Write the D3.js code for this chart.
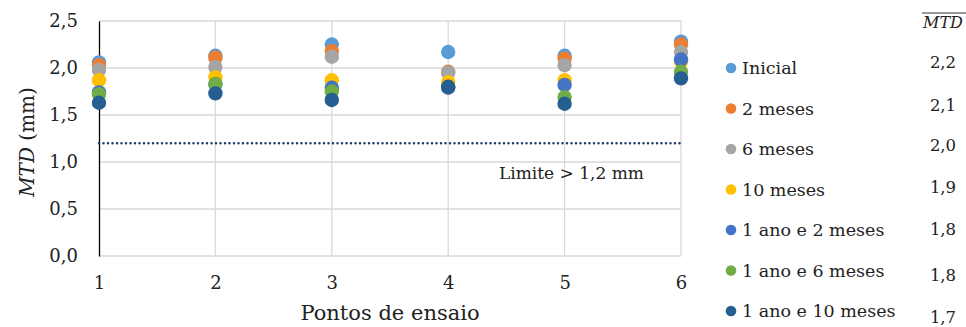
<!DOCTYPE html>
<html>
<head>
<meta charset="utf-8">
<script src="https://cdn.jsdelivr.net/npm/d3@7"></script>
<style>
  html, body { margin: 0; padding: 0; background: #fff; }
  svg { display: block; }
  svg text { font-family: "DejaVu Serif", serif; fill: #222; }
</style>
</head>
<body>
<svg id="chart" width="966" height="327"></svg>
<script>
// Test points along the road section
const points = [1, 2, 3, 4, 5, 6];

// Survey campaigns (legend order)
const seriesNames = ["Inicial", "2 meses", "6 meses", "10 meses", "1 ano e 2 meses", "1 ano e 6 meses", "1 ano e 10 meses"];
const seriesColors = ["#5B9BD5", "#ED7D31", "#A5A5A5", "#FFC000", "#4472C4", "#70AD47", "#255E91"];

// MTD (mm) measured at each test point, one array per campaign
const mtdInicial = [2.06, 2.13, 2.25, 2.17, 2.13, 2.28];
const mtd2m      = [2.03, 2.11, 2.18, 1.96, 2.10, 2.25];
const mtd6m      = [1.98, 2.01, 2.12, 1.95, 2.03, 2.17];
const mtd10m     = [1.87, 1.90, 1.87, 1.85, 1.87, 2.07];
const mtd1a2m    = [1.74, 1.83, 1.79, 1.79, 1.82, 2.09];
const mtd1a6m    = [1.72, 1.83, 1.75, 1.80, 1.69, 1.96];
const mtd1a10m   = [1.63, 1.73, 1.66, 1.80, 1.62, 1.89];
const seriesValues = [mtdInicial, mtd2m, mtd6m, mtd10m, mtd1a2m, mtd1a6m, mtd1a10m];

// Axis ticks and limit
const yTicks = [0, 0.5, 1.0, 1.5, 2.0, 2.5];
const limitValue = 1.2;
const limitLabel = "Limite > 1,2 mm";

const svg = d3.select("#chart");
const plot = { left: 99, right: 681, top: 21, bottom: 256 };

const x = d3.scaleLinear().domain([1, 6]).range([plot.left, plot.right]);
const y = d3.scaleLinear().domain([0, 2.5]).range([plot.bottom, plot.top]);
const fmt = v => d3.format(".1f")(v).replace(".", ",");

// Horizontal gridlines
svg.append("g").selectAll("line").data(yTicks).join("line")
  .attr("x1", plot.left).attr("x2", plot.right)
  .attr("y1", d => y(d)).attr("y2", d => y(d))
  .attr("stroke", "#D9D9D9").attr("stroke-width", 1.3);

// Vertical gridlines
svg.append("g").selectAll("line").data(points.slice(1)).join("line")
  .attr("x1", d => x(d)).attr("x2", d => x(d))
  .attr("y1", plot.top).attr("y2", plot.bottom)
  .attr("stroke", "#D9D9D9").attr("stroke-width", 1.3);

// Y axis
const yAxis = svg.append("g")
  .attr("transform", `translate(${plot.left},0)`)
  .call(d3.axisLeft(y).tickValues(yTicks).tickFormat(fmt).tickSize(0).tickPadding(21));
yAxis.attr("font-family", null);
yAxis.select(".domain").attr("stroke", "#000").attr("stroke-width", 1.3);
yAxis.selectAll("text").attr("font-size", 18).attr("fill", "#222");

// X axis
const xAxis = svg.append("g")
  .attr("transform", `translate(0,${plot.bottom})`)
  .call(d3.axisBottom(x).tickValues(points).tickFormat(d3.format("d")).tickSize(0).tickPadding(20));
xAxis.attr("font-family", null);
xAxis.select(".domain").remove();
xAxis.selectAll("text").attr("font-size", 18).attr("fill", "#222");

// Limit line
svg.append("line")
  .attr("x1", plot.left).attr("x2", plot.right)
  .attr("y1", y(limitValue)).attr("y2", y(limitValue))
  .attr("stroke", "#203864").attr("stroke-width", 2.5)
  .attr("stroke-dasharray", "0 4.5").attr("stroke-linecap", "round");

svg.append("text")
  .attr("x", 499).attr("y", 179)
  .attr("font-size", 17)
  .text(limitLabel);

// Markers, drawn in legend order
seriesValues.forEach((vals, i) => {
  svg.append("g").selectAll("circle").data(vals).join("circle")
    .attr("cx", (d, j) => x(points[j]))
    .attr("cy", d => y(d))
    .attr("r", 7.2)
    .attr("fill", seriesColors[i]);
});

// Axis titles
const yTitle = svg.append("text")
  .attr("transform", "translate(34,142) rotate(-90)")
  .attr("text-anchor", "middle")
  .attr("font-size", 20);
yTitle.append("tspan").attr("font-style", "italic").text("MTD");
yTitle.append("tspan").text(" (mm)");

svg.append("text")
  .attr("x", 390).attr("y", 320)
  .attr("text-anchor", "middle")
  .attr("font-size", 21)
  .text("Pontos de ensaio");

// Legend
const legendY = d3.scalePoint().domain(seriesNames).range([68, 311]);
const legend = svg.append("g");
legend.selectAll("circle").data(seriesNames).join("circle")
  .attr("cx", 731).attr("cy", d => legendY(d))
  .attr("r", 5.3)
  .attr("fill", (d, i) => seriesColors[i]);
legend.selectAll("text").data(seriesNames).join("text")
  .attr("x", 742).attr("y", d => legendY(d) + 6)
  .attr("font-size", 17.5)
  .text(d => d);

// Mean MTD per campaign
const meanX = 943;
svg.append("text")
  .attr("x", meanX).attr("y", 28)
  .attr("text-anchor", "middle")
  .attr("font-size", 16).attr("font-style", "italic")
  .text("MTD");
svg.append("line")
  .attr("x1", 922).attr("x2", 966)
  .attr("y1", 13).attr("y2", 13)
  .attr("stroke", "#333").attr("stroke-width", 1);

const meanYOffsets = [0, 2, 2, 3, 5, 10, 12];
svg.append("g").selectAll("text").data(seriesValues).join("text")
  .attr("x", meanX).attr("y", (d, i) => legendY(seriesNames[i]) + meanYOffsets[i])
  .attr("text-anchor", "middle")
  .attr("font-size", 16.5)
  .text(d => fmt(d3.mean(d)));
</script>
</body>
</html>
